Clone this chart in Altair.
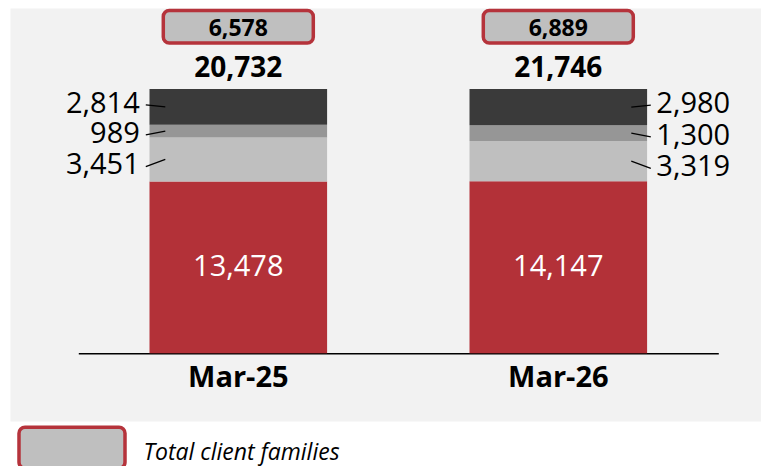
import altair as alt
import pandas as pd

# ---- data -------------------------------------------------------------
periods = ["Mar-25", "Mar-26"]
segment_keys = ["s1", "s2", "s3", "s4"]          # bottom -> top
segment_colors = ["#b33138", "#bfbfbf", "#969696", "#3a3a3a"]
seg_s1 = [13478, 14147]   # red (bottom)
seg_s2 = [3451, 3319]     # light grey
seg_s3 = [989, 1300]      # mid grey
seg_s4 = [2814, 2980]     # dark grey (top)
total_client_families = [6578, 6889]
legend_label = "Total client families"

FONT = "Open Sans"
RED = "#b5333b"

rows = []
for i, p in enumerate(periods):
    for k, (key, vals) in enumerate(zip(segment_keys, [seg_s1, seg_s2, seg_s3, seg_s4])):
        rows.append({"period": p, "segment": key, "order": k, "value": vals[i]})
df = pd.DataFrame(rows)
df_box = pd.DataFrame({"period": periods, "clients": total_client_families,
                       "series": [legend_label] * len(periods)})

x_scale = alt.Scale(domain=periods, range=[68.3, 708.3], paddingInner=0.445, paddingOuter=0.2225)
y_scale = alt.Scale(domain=[0, 1], range=[345.3, 81], zero=False, nice=False)

X = alt.X("period:N", scale=x_scale, sort=periods,
          axis=alt.Axis(title=None, labelAngle=0, ticks=False, tickSize=0, offset=-67.7,
                        domainColor="#000000", domainWidth=1.6,
                        labelFont=FONT, labelFontSize=29, labelFontWeight="bold",
                        labelColor="#000000", labelPadding=10.5))

base = alt.Chart(df).transform_stack(
    stack="value", groupby=["period"], as_=["y0", "y1"],
    sort=[alt.SortField("order", order="ascending")], offset="normalize"
).transform_calculate(mid="(datum.y0 + datum.y1) / 2")

bars = base.mark_bar(width=177.6).encode(
    x=X,
    y=alt.Y("y0:Q", scale=y_scale, axis=None),
    y2="y1:Q",
    color=alt.Color("segment:N", scale=alt.Scale(domain=segment_keys, range=segment_colors),
                    legend=None),
)

red_label = base.transform_filter("datum.segment == 's1'").mark_text(
    font=FONT, fontSize=29, color="white", baseline="middle", align="center"
).encode(x=X, y=alt.Y("mid:Q", scale=y_scale), text=alt.Text("value:Q", format=","))

# side labels with leader lines
label_dy = {"s2": 6.0, "s3": 2.6, "s4": -3.2}
side_layers = []
for seg, dy in label_dy.items():
    for p, align, dx, inner, outer in [("Mar-25", "right", -98.5, -73, -92.5),
                                       ("Mar-26", "left", 98.0, 73, 92.5)]:
        sub = base.transform_filter(f"datum.segment == '{seg}' && datum.period == '{p}'")
        side_layers.append(sub.mark_text(
            font=FONT, fontSize=29, color="#000000", align=align, baseline="middle",
            dx=dx, dy=dy
        ).encode(x=X, y=alt.Y("mid:Q", scale=y_scale), text=alt.Text("value:Q", format=",")))
        side_layers.append(sub.mark_rule(
            color="#000000", strokeWidth=1.3, xOffset=inner, x2Offset=outer, y2Offset=dy + 1.2
        ).encode(x=X, x2="period:N", y=alt.Y("mid:Q", scale=y_scale), y2="mid:Q"))

totals = alt.Chart(df).transform_aggregate(
    total="sum(value)", groupby=["period"]
).mark_text(font=FONT, fontSize=28, fontWeight="bold", color="#000000",
            baseline="middle", align="center", dy=-20).encode(
    x=X, y=alt.Y(datum=1, scale=y_scale), text=alt.Text("total:Q", format=",")
)

# rounded-rectangle legend symbol (drawn slightly above the label's centre line)
legend_symbol = ("M-2.865,-1.054 A0.324,0.324 0 0 1 -2.541,-1.378 L2.541,-1.378 "
                 "A0.324,0.324 0 0 1 2.865,-1.054 L2.865,0.516 "
                 "A0.324,0.324 0 0 1 2.541,0.84 L-2.541,0.84 "
                 "A0.324,0.324 0 0 1 -2.865,0.516 Z")

boxes = alt.Chart(df_box).mark_bar(
    width=150, cornerRadius=6, stroke=RED, strokeWidth=3.5, yOffset=-78.5, y2Offset=-46
).encode(
    x=X, y=alt.Y(datum=1, scale=y_scale), y2=alt.datum(1),
    fill=alt.Fill("series:N", scale=alt.Scale(domain=[legend_label], range=["#bfbfbf"]),
                  legend=alt.Legend(
                      title=None, orient="none", legendX=41.5, legendY=424.2, padding=0,
                      symbolType=legend_symbol,
                      symbolSize=1369, symbolStrokeColor=RED, symbolStrokeWidth=3.5,
                      symbolOpacity=1, symbolFillColor="#bfbfbf",
                      labelFont=FONT, labelFontSize=23, labelFontStyle="italic",
                      labelColor="#000000", labelOffset=51, labelLimit=400)),
)

box_text = alt.Chart(df_box).mark_text(
    font=FONT, fontSize=23, fontWeight="bold", color="#000000",
    baseline="middle", align="center", dy=-60.5
).encode(x=X, y=alt.Y(datum=1, scale=y_scale), text=alt.Text("clients:Q", format=","))

chart = alt.layer(bars, red_label, *side_layers, totals, boxes, box_text).properties(
    width=751, height=413,
    autosize=alt.AutoSizeParams(type="none"),
    padding={"left": 2, "top": 0, "right": 0, "bottom": 45},
    background="white",
).configure_view(fill="#f2f2f2", stroke="transparent")

chart.save("out.html", embed_options={"renderer": "svg", "actions": False})
